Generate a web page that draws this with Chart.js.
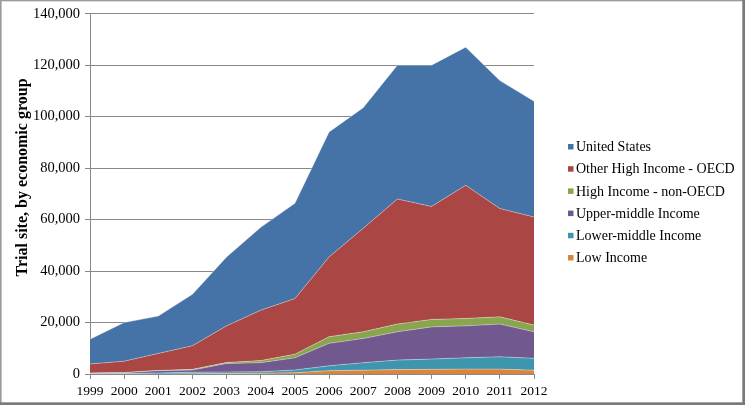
<!DOCTYPE html>
<html>
<head>
<meta charset="utf-8">
<script src="https://cdn.jsdelivr.net/npm/chart.js@4"></script>
<style>
  html, body { margin: 0; padding: 0; background: #fff; }
  #wrap { width: 745px; height: 405px; position: relative; }
</style>
</head>
<body>
<div id="wrap"><canvas id="chart" width="745" height="405"></canvas></div>
<script>
// ---------- Data ----------
const years = ['1999','2000','2001','2002','2003','2004','2005','2006','2007','2008','2009','2010','2011','2012'];
const lowIncome     = [0, 0, 0, 100, 200, 300, 500, 1300, 1500, 1700, 1800, 1900, 1900, 1500];
const lowerMiddle   = [100, 200, 400, 600, 600, 600, 1050, 1900, 2900, 3700, 4000, 4400, 4800, 4600];
const upperMiddle   = [200, 300, 900, 850, 3300, 3500, 4750, 8700, 9400, 11000, 12500, 12400, 12700, 10300];
const highNonOecd   = [100, 100, 100, 250, 400, 800, 1400, 2600, 2600, 3000, 2900, 2900, 2800, 2600];
const otherHighOecd = [3500, 4400, 6600, 9200, 14200, 19600, 21600, 31000, 40200, 48600, 43900, 51700, 42100, 42000];
const unitedStates  = [9600, 15000, 14500, 20000, 26800, 32200, 37000, 48500, 46900, 52000, 54900, 53700, 49700, 45000];
const yTicks = [0, 20000, 40000, 60000, 80000, 100000, 120000, 140000];
const yTitle = 'Trial site, by economic group';

const FONT = '"Liberation Serif", "Times New Roman", serif';

// bottom of stack first, legend shows top first
const series = [
  { label: 'Low Income', data: lowIncome, color: '#DB843D' },
  { label: 'Lower-middle Income', data: lowerMiddle, color: '#3D96AE' },
  { label: 'Upper-middle Income', data: upperMiddle, color: '#71588F' },
  { label: 'High Income - non-OECD', data: highNonOecd, color: '#89A54E' },
  { label: 'Other High Income - OECD', data: otherHighOecd, color: '#AA4643' },
  { label: 'United States', data: unitedStates, color: '#4572A7' }
];

// ---------- Extras: legend, axis title, frame ----------
const extras = {
  id: 'extras',
  afterDraw(chart) {
    const ctx = chart.ctx;
    ctx.save();
    // legend
    ctx.font = '14px ' + FONT;
    ctx.textBaseline = 'middle';
    ctx.textAlign = 'left';
    const items = chart.data.datasets.slice().reverse();
    items.forEach((ds, i) => {
      const y = 147 + i * 22.2;
      ctx.fillStyle = ds.backgroundColor;
      ctx.fillRect(568, y - 3, 5.5, 5.5);
      ctx.fillStyle = '#000';
      ctx.fillText(ds.label, 576, y + 0.5);
    });
    // y title
    ctx.translate(22.5, 177.5);
    ctx.rotate(-Math.PI / 2);
    ctx.font = 'bold 16px ' + FONT;
    ctx.textAlign = 'center';
    ctx.fillText(yTitle, 0, 0);
    ctx.restore();
    // frame
    ctx.save();
    ctx.fillStyle = '#9a9a9a';
    ctx.fillRect(0, 0, 745, 1.3);
    ctx.fillRect(0, 0, 1.6, 405);
    ctx.fillStyle = '#7a7a7a';
    ctx.fillRect(742.3, 0, 2.7, 405);
    ctx.fillRect(0, 402.3, 745, 2.7);
    ctx.restore();
  }
};

const ctx = document.getElementById('chart').getContext('2d');
new Chart(ctx, {
  type: 'line',
  data: {
    labels: years,
    datasets: series.map((s, i) => ({
      label: s.label,
      data: s.data,
      backgroundColor: s.color,
      borderColor: 'rgba(255,255,255,0.35)',
      borderWidth: 1,
      pointRadius: 0,
      tension: 0,
      fill: i === 0 ? 'origin' : '-1'
    }))
  },
  options: {
    responsive: false,
    animation: false,
    layout: { padding: { left: 0, top: 13, right: 211, bottom: 0 } },
    plugins: { legend: { display: false }, tooltip: { enabled: false } },
    scales: {
      x: {
        offset: false,
        afterFit: (scale) => { scale.height = 31; },
        grid: { display: true, drawOnChartArea: false, drawTicks: true, tickLength: 5, color: '#888' },
        border: { display: true, color: '#888', width: 1 },
        ticks: { color: '#000', font: { family: FONT, size: 13.5 }, padding: 4, maxRotation: 0, autoSkip: false }
      },
      y: {
        stacked: true,
        min: 0,
        max: 140000,
        afterFit: (scale) => { scale.width = 90; },
        afterBuildTicks: (scale) => { scale.ticks = yTicks.map(v => ({ value: v })); },
        grid: { color: '#888', lineWidth: 1, tickLength: 5 },
        border: { display: true, color: '#888', width: 1 },
        ticks: {
          color: '#000',
          font: { family: FONT, size: 14.5 },
          padding: 5,
          callback: (v) => v.toLocaleString('en-US')
        }
      }
    }
  },
  plugins: [extras]
});
</script>
</body>
</html>
